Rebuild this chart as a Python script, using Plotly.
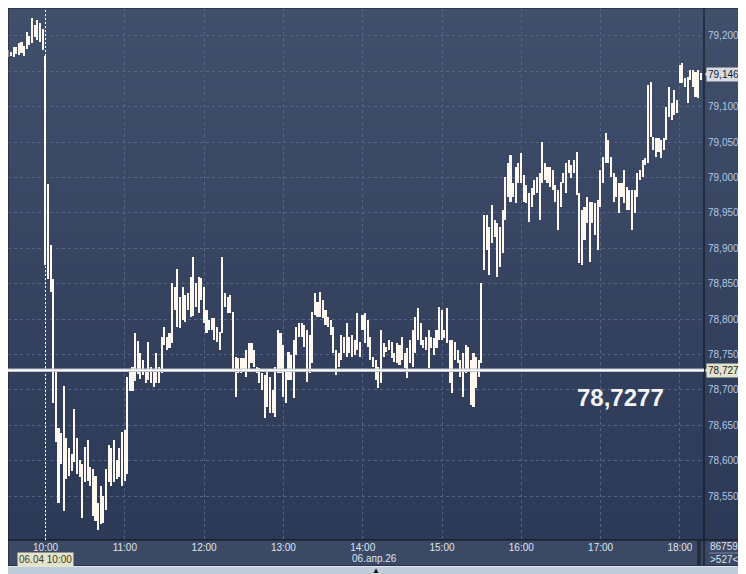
import math
import pandas as pd
import plotly.graph_objects as go

day = '2026-04-06'
session_start = f'{day} 10:00'

# previous session tail, 2-minute bars from 09:32
pre_high = [79.180, 79.178, 79.184, 79.185, 79.190, 79.192, 79.186, 79.206, 79.200, 79.225,
            79.215, 79.223, 79.218, 79.210]
pre_low = [79.171, 79.172, 79.171, 79.175, 79.173, 79.176, 79.172, 79.181, 79.187, 79.190,
           79.199, 79.195, 79.192, 79.180]

# session, 2-minute bars from 10:00
high = [
    79.172, 78.991, 78.905, 78.857, 78.725, 78.646, 78.639, 78.706, 78.632, 78.618,
    78.610, 78.673, 78.632, 78.601, 78.596, 78.620, 78.629, 78.591, 78.589, 78.579,
    78.541, 78.565, 78.550, 78.589, 78.622, 78.618, 78.629, 78.601, 78.618, 78.641,
    78.644, 78.718, 78.730, 78.733, 78.780, 78.769, 78.752, 78.742, 78.728, 78.768,
    78.733, 78.730, 78.752, 78.733, 78.775, 78.789, 78.775, 78.781, 78.851, 78.845,
    78.871, 78.831, 78.845, 78.834, 78.837, 78.860, 78.888, 78.851, 78.860, 78.858,
    78.845, 78.813, 78.799, 78.802, 78.802, 78.789, 78.782, 78.888, 78.837, 78.831,
    78.834, 78.810, 78.747, 78.745, 78.745, 78.745, 78.757, 78.766, 78.766, 78.757,
    78.732, 78.731, 78.724, 78.721, 78.725, 78.718, 78.700, 78.733, 78.785, 78.781,
    78.764, 78.728, 78.754, 78.749, 78.771, 78.789, 78.795, 78.795, 78.792, 78.785,
    78.778, 78.810, 78.837, 78.824, 78.838, 78.827, 78.813, 78.803, 78.799, 78.789,
    78.757, 78.752, 78.778, 78.775, 78.795, 78.775, 78.778, 78.771, 78.809, 78.768,
    78.806, 78.809, 78.799, 78.775, 78.747, 78.742, 78.732, 78.785, 78.766, 78.761,
    78.771, 78.768, 78.752, 78.766, 78.764, 78.775, 78.752, 78.759, 78.771, 78.785,
    78.803, 78.816, 78.795, 78.771, 78.775, 78.785, 78.775, 78.773, 78.785, 78.817,
    78.813, 78.785, 78.816, 78.771, 78.771, 78.768, 78.757, 78.742, 78.752, 78.763,
    78.761, 78.742, 78.752, 78.747, 78.742, 78.851, 78.947, 78.947, 78.930, 78.961,
    78.940, 78.936, 78.930, 78.954, 79.001, 79.021, 79.032, 78.992, 79.015, 79.021,
    79.035, 79.004, 78.990, 78.978, 78.985, 78.997, 79.001, 79.007, 79.050, 79.021,
    79.015, 79.015, 79.011, 78.990, 78.982, 78.994, 79.006, 79.021, 79.025, 79.018,
    79.025, 79.036, 78.978, 78.954, 78.958, 78.973, 78.966, 78.966, 78.964, 78.968,
    79.011, 79.029, 79.063, 79.053, 79.029, 79.006, 79.001, 78.992, 78.992, 79.011,
    78.987, 78.982, 78.982, 78.982, 79.006, 79.011, 79.025, 79.028, 79.131, 79.135,
    79.057, 79.056, 79.056, 79.053, 79.056, 79.100, 79.128, 79.105, 79.124, 79.110,
    79.159, 79.162, 79.141, 79.142, 79.152, 79.152, 79.149, 79.152, 79.148,
]
low = [
    78.877, 78.857, 78.838, 78.682, 78.627, 78.541, 78.596, 78.529, 78.574, 78.579,
    78.586, 78.598, 78.582, 78.577, 78.519, 78.570, 78.572, 78.565, 78.522, 78.515,
    78.502, 78.510, 78.512, 78.531, 78.570, 78.565, 78.570, 78.574, 78.577, 78.565,
    78.572, 78.582, 78.699, 78.699, 78.713, 78.723, 78.716, 78.721, 78.710, 78.714,
    78.710, 78.704, 78.710, 78.710, 78.724, 78.764, 78.757, 78.759, 78.766, 78.813,
    78.789, 78.787, 78.799, 78.796, 78.813, 78.803, 78.804, 78.817, 78.809, 78.827,
    78.795, 78.780, 78.785, 78.785, 78.771, 78.768, 78.757, 78.780, 78.817, 78.809,
    78.809, 78.726, 78.690, 78.724, 78.724, 78.728, 78.718, 78.725, 78.738, 78.732,
    78.724, 78.710, 78.700, 78.660, 78.676, 78.667, 78.667, 78.662, 78.724, 78.724,
    78.690, 78.682, 78.714, 78.714, 78.689, 78.749, 78.775, 78.775, 78.761, 78.711,
    78.724, 78.738, 78.806, 78.803, 78.803, 78.802, 78.792, 78.789, 78.778, 78.752,
    78.721, 78.732, 78.742, 78.752, 78.747, 78.752, 78.747, 78.749, 78.757, 78.747,
    78.785, 78.766, 78.761, 78.742, 78.732, 78.714, 78.703, 78.710, 78.747, 78.754,
    78.757, 78.745, 78.740, 78.738, 78.735, 78.742, 78.731, 78.717, 78.738, 78.732,
    78.752, 78.771, 78.764, 78.759, 78.757, 78.731, 78.759, 78.749, 78.759, 78.771,
    78.771, 78.773, 78.766, 78.710, 78.696, 78.742, 78.738, 78.718, 78.690, 78.724,
    78.728, 78.679, 78.676, 78.703, 78.718, 78.738, 78.869, 78.898, 78.862, 78.908,
    78.916, 78.860, 78.874, 78.893, 78.940, 78.973, 78.965, 78.973, 78.964, 78.992,
    78.992, 78.966, 78.964, 78.937, 78.958, 78.975, 78.978, 78.940, 78.992, 78.997,
    78.992, 78.987, 78.982, 78.966, 78.926, 78.958, 78.992, 78.978, 79.006, 79.000,
    79.006, 78.976, 78.879, 78.877, 78.912, 78.936, 78.881, 78.936, 78.919, 78.898,
    78.958, 78.992, 79.021, 79.021, 79.001, 78.966, 78.973, 78.950, 78.973, 78.964,
    78.954, 78.954, 78.926, 78.950, 78.973, 78.997, 79.001, 79.018, 79.021, 79.057,
    79.039, 79.029, 79.036, 79.028, 79.039, 79.053, 79.086, 79.081, 79.088, 79.091,
    79.134, 79.134, 79.128, 79.105, 79.138, 79.128, 79.114, 79.112, 79.138,
]

level = 78.7277
last_price = 79.146
y_ticks = [78.55, 78.60, 78.65, 78.70, 78.75, 78.80, 78.85, 78.90, 78.95, 79.00,
           79.05, 79.10, 79.15, 79.20]

times = (list(pd.date_range(f'{day} 09:32', periods=len(pre_high), freq='2min'))
         + list(pd.date_range(session_start, periods=len(high), freq='2min')))
highs = pre_high + high
lows = pre_low + low


def comma(v, nd):
    return f'{v:.{nd}f}'.replace('.', ',')


# labels hidden by the last-price tag stay blank
y_tick_text = ['' if abs(v - last_price) < 0.01 else comma(v, 3) for v in y_ticks]


# page pixel -> paper helpers (plot box on the page is 8..704 x 8..540;
# the page itself adds an 8px margin around the figure)
def px(x):
    return (x - 8) / 696


def py(y):
    return (540 - y) / 532


grid = '#56648a'
right_edge = px(743)

fig = go.Figure()
fig.add_trace(go.Bar(
    x=times, y=[h - l for h, l in zip(highs, lows)], base=lows,
    width=72000, marker=dict(color='#fff8f0', line=dict(width=0)),
    hoverinfo='skip'
))

shapes = []
# vertical background gradient of the chart and price panel (bands overlap to avoid seams)
top_c, bot_c = (64, 79, 106), (44, 57, 87)
n = 40
for i in range(n):
    f = i / (n - 1)
    c = tuple(round(a + (b - a) * f) for a, b in zip(top_c, bot_c))
    shapes.append(dict(type='rect', xref='paper', yref='paper', x0=0, x1=right_edge,
                       y0=max(0, 1 - (i + 2) / n), y1=1 - i / n, layer='below',
                       fillcolor='rgb(%d,%d,%d)' % c, line=dict(width=0)))
# time axis panel
shapes.append(dict(type='rect', xref='paper', yref='paper', x0=0, x1=right_edge,
                   y0=py(566), y1=0, layer='below', fillcolor='#3c4964', line=dict(width=0)))
# frame
shapes.append(dict(type='rect', xref='paper', yref='paper', x0=0, x1=right_edge,
                   y0=py(566), y1=1, line=dict(color='#1a2132', width=1)))
shapes.append(dict(type='line', xref='paper', yref='paper', x0=px(744), x1=px(744),
                   y0=py(566.5), y1=1, line=dict(color='#dfe5ee', width=1)))
shapes.append(dict(type='line', xref='paper', yref='paper', x0=0, x1=px(744),
                   y0=py(566.5), y1=py(566.5), line=dict(color='#dfe5ee', width=1)))
shapes.append(dict(type='line', xref='paper', yref='paper', x0=0, x1=right_edge,
                   y0=0, y1=0, line=dict(color='#0c0f16', width=1)))
shapes.append(dict(type='line', xref='paper', yref='paper', x0=1, x1=1,
                   y0=py(566), y1=1, line=dict(color='#0c0f16', width=1)))
# scrollbar thumb and corner divider
shapes.append(dict(type='rect', xref='paper', yref='paper', x0=px(697), x1=px(701),
                   y0=py(565), y1=py(541), fillcolor='#252c3d', line=dict(width=0)))
shapes.append(dict(type='line', xref='paper', yref='paper', x0=px(709), x1=px(740),
                   y0=py(553), y1=py(553), line=dict(color='#7c889e', width=1)))
# session separator
shapes.append(dict(type='line', xref='x', yref='paper', x0=session_start, x1=session_start,
                   y0=0, y1=1, line=dict(color='white', width=1, dash='2px,2px')))
# level line
shapes.append(dict(type='line', xref='paper', yref='y', x0=0, x1=1, y0=level, y1=level,
                   line=dict(color='#bfc4cc', width=3.5)))
shapes.append(dict(type='line', xref='paper', yref='y', x0=0, x1=1, y0=level, y1=level,
                   line=dict(color='#ffffff', width=1.5)))
# pointers of the price tags
for val, col in [(last_price, '#d6dae2'), (level, '#e1e4cf')]:
    shapes.append(dict(type='path', xref='paper', yref='y', xsizemode='pixel', ysizemode='pixel',
                       xanchor=1, yanchor=val, path='M1,0 L6,6 L6,-6 Z',
                       fillcolor=col, line=dict(color='#8a93a6', width=0.5)))

ann = []
ann.append(dict(xref='paper', yref='y', x=px(706), y=last_price, xanchor='left', yanchor='middle',
                text=comma(last_price, 3), showarrow=False, bgcolor='#d6dae2', borderpad=1,
                width=34, align='left', font=dict(size=10, color='#141a28')))
ann.append(dict(xref='paper', yref='y', x=px(706), y=level, xanchor='left', yanchor='middle',
                text=comma(math.floor(level * 1000) / 1000, 3), showarrow=False,
                bgcolor='#e1e4cf', borderpad=1, width=34, align='left',
                font=dict(size=10, color='#1c1c14')))
ann.append(dict(xref='paper', yref='y', x=px(620), y=level, yshift=-27, xanchor='center',
                yanchor='middle', text='<b>' + comma(level, 4) + '</b>', showarrow=False,
                font=dict(size=24, color='#f4f4f4', family='Liberation Sans, Arial, sans-serif')))
ann.append(dict(xref='paper', yref='paper', x=px(45.5), y=py(559.5), xanchor='center',
                yanchor='middle', text='06.04 10:00', showarrow=False, bgcolor='#e4e4c8',
                borderpad=1, font=dict(size=10, color='#3c3a2c')))
ann.append(dict(xref='paper', yref='paper', x=px(375), y=py(558.5), xanchor='center',
                yanchor='middle', text='06.апр.26', showarrow=False,
                font=dict(size=10, color='#dde5f1')))
ann.append(dict(xref='paper', yref='paper', x=px(724), y=py(546.5), xanchor='center',
                yanchor='middle', text='86759', showarrow=False,
                font=dict(size=10, color='#dde5f1')))
ann.append(dict(xref='paper', yref='paper', x=px(724), y=py(559.5), xanchor='center',
                yanchor='middle', text='>527<', showarrow=False,
                font=dict(size=10, color='#dde5f1')))
ann.append(dict(xref='paper', yref='paper', x=px(376), y=py(570), xanchor='center',
                yanchor='middle', text='▲', showarrow=False,
                font=dict(size=8, color='#111111')))

fig.update_layout(
    width=738, height=566,
    margin=dict(l=0, r=42, t=0, b=34, autoexpand=False),
    paper_bgcolor='#c1ccdb', plot_bgcolor='rgba(0,0,0,0)',
    separators=', ', showlegend=False, bargap=0,
    font=dict(family='Liberation Sans, Arial, sans-serif', size=10),
    xaxis=dict(
        type='date', range=[f'{day} 09:31:36', f'{day} 18:18:14'],
        tick0=session_start, dtick=3600000, tickformat='%H:%M',
        showgrid=True, gridcolor=grid, griddash='3px,3px', gridwidth=1,
        zeroline=False, showline=False, ticks='',
        tickfont=dict(size=10, color='#dde5f1'), fixedrange=True
    ),
    yaxis=dict(
        side='right', range=[78.4881, 79.2395],
        tickvals=y_ticks, ticktext=y_tick_text,
        showgrid=True, gridcolor=grid, griddash='3px,3px', gridwidth=1,
        zeroline=False, showline=False, ticks='', ticklabelstandoff=3,
        tickfont=dict(size=10, color='#b2c8e8'), fixedrange=True
    ),
    shapes=shapes,
    annotations=ann,
)

fig.write_html("out.html")
